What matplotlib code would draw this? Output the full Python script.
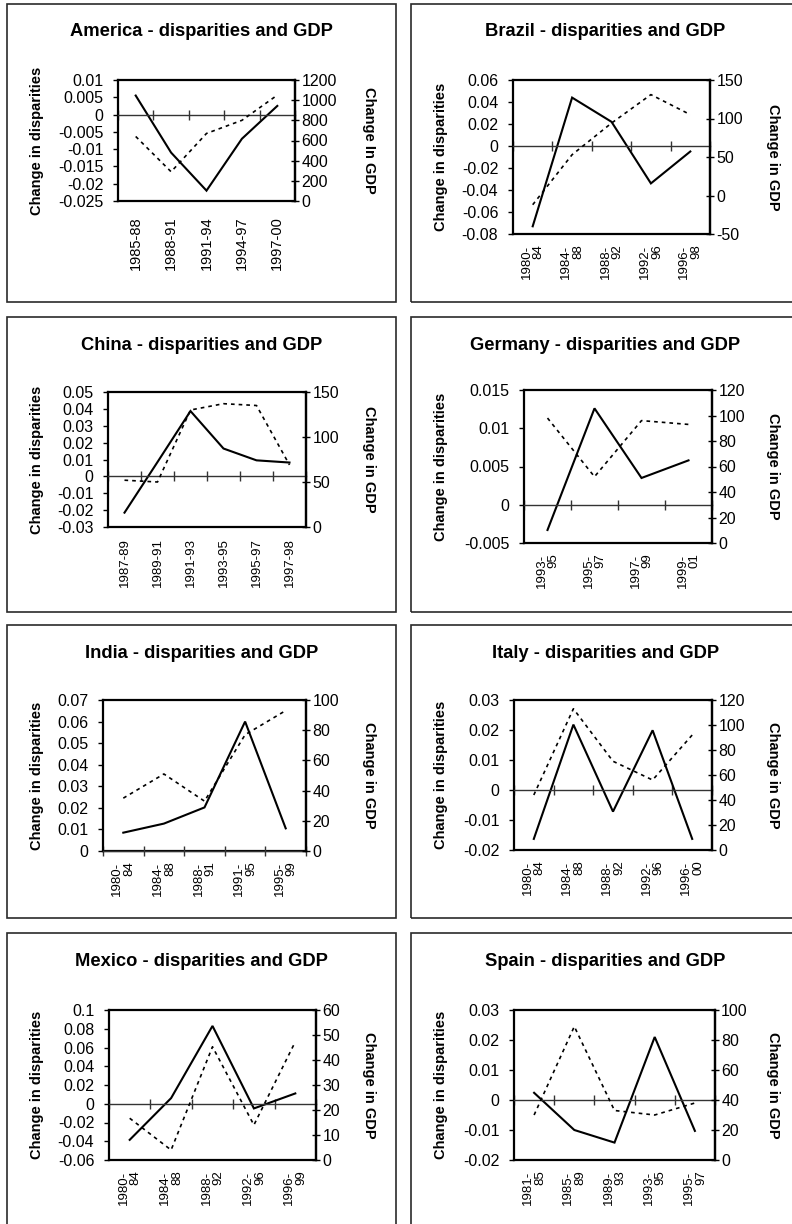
import numpy as np
import matplotlib
matplotlib.use('Agg')
import matplotlib.pyplot as plt
from matplotlib.patches import Rectangle
from matplotlib.ticker import FuncFormatter

plt.rcParams['font.family'] = ['Liberation Sans', 'DejaVu Sans']

# ---- data ----
america_periods = ['1985-88', '1988-91', '1991-94', '1994-97', '1997-00']
america_disp = [0.0055, -0.011, -0.022, -0.007, 0.0025]
america_gdp = [640, 290, 670, 800, 1050]

brazil_periods = ['1980-\n84', '1984-\n88', '1988-\n92', '1992-\n96', '1996-\n98']
brazil_disp = [-0.073, 0.044, 0.022, -0.034, -0.005]
brazil_gdp = [-12, 53, 94, 131, 105]

china_periods = ['1987-89', '1989-91', '1991-93', '1993-95', '1995-97', '1997-98']
china_disp = [-0.0215, 0.0085, 0.0387, 0.0165, 0.0095, 0.0082]
china_gdp = [52, 50, 130, 137, 135, 69]

germany_periods = ['1993-\n95', '1995-\n97', '1997-\n99', '1999-\n01']
germany_disp = [-0.0033, 0.0126, 0.0035, 0.0058]
germany_gdp = [98, 52, 96, 93]

india_periods = ['1980-\n84', '1984-\n88', '1988-\n91', '1991-\n95', '1995-\n99']
india_disp = [0.0085, 0.0127, 0.0202, 0.06, 0.0105]
india_gdp = [35, 51, 33, 77, 93]

italy_periods = ['1980-\n84', '1984-\n88', '1988-\n92', '1992-\n96', '1996-\n00']
italy_disp = [-0.0163, 0.0218, -0.0072, 0.0199, -0.0163]
italy_gdp = [44, 113, 71, 56, 92]

mexico_periods = ['1980-\n84', '1984-\n88', '1988-\n92', '1992-\n96', '1996-\n99']
mexico_disp = [-0.0385, 0.006, 0.083, -0.005, 0.011]
mexico_gdp = [16.7, 4, 45.3, 14, 47.3]

spain_periods = ['1981-\n85', '1985-\n89', '1989-\n93', '1993-\n95', '1995-\n97']
spain_disp = [0.0024, -0.01, -0.0142, 0.021, -0.0103]
spain_gdp = [30, 89, 33, 30, 38]

# ---- chart setup: (title, periods, disparities, gdp, left axis, right axis, right label)
charts = [
    ('America', america_periods, america_disp, america_gdp, (-0.025, 0.01, 0.005), (0, 1200, 200), 'Change In GDP'),
    ('Brazil', brazil_periods, brazil_disp, brazil_gdp, (-0.08, 0.06, 0.02), (-50, 150, 50), 'Change in GDP'),
    ('China', china_periods, china_disp, china_gdp, (-0.03, 0.05, 0.01), (0, 150, 50), 'Change in GDP'),
    ('Germany', germany_periods, germany_disp, germany_gdp, (-0.005, 0.015, 0.005), (0, 120, 20), 'Change in GDP'),
    ('India', india_periods, india_disp, india_gdp, (0, 0.07, 0.01), (0, 100, 20), 'Change in GDP'),
    ('Italy', italy_periods, italy_disp, italy_gdp, (-0.02, 0.03, 0.01), (0, 120, 20), 'Change in GDP'),
    ('Mexico', mexico_periods, mexico_disp, mexico_gdp, (-0.06, 0.1, 0.02), (0, 60, 10), 'Change in GDP'),
    ('Spain', spain_periods, spain_disp, spain_gdp, (-0.02, 0.03, 0.01), (0, 100, 20), 'Change in GDP'),
]

# pixel layout: panel boxes, plot areas (x0, y0, x1, y1), x-label pad and size
W, H = 792, 1224
col_x = [(7, 396), (411, 800)]
row_y = [(4, 302), (317, 612), (625, 918), (933, 1231)]
plot_boxes = [
    (118, 80, 295, 201), (513, 80, 710, 234),
    (108, 392, 306, 527), (524, 390, 712, 543),
    (103, 700, 306, 851), (514, 700, 712, 850),
    (109, 1010, 316, 1160), (514, 1010, 715, 1160),
]
xlab_pad = [11, 7.5, 8, 7.5, 7.5, 7.5, 7.5, 7.5]
xlab_size = [10.5, 9.5, 9.5, 9.5, 9.5, 9.5, 9.5, 9.5]

fig = plt.figure(figsize=(W / 100, H / 100), dpi=100)
fmt = FuncFormatter(lambda v, p: '%g' % round(v, 6))


def fig_rect(x0, y0, x1, y1):
    return [x0 / W, 1 - y1 / H, (x1 - x0) / W, (y1 - y0) / H]


for i, (name, periods, disp, gdp, lax, rax, rlabel) in enumerate(charts):
    c, r = i % 2, i // 2
    px0, px1 = col_x[c]
    py0, py1 = row_y[r]
    fig.add_artist(Rectangle((px0 / W, 1 - py1 / H), (px1 - px0) / W, (py1 - py0) / H,
                             transform=fig.transFigure, fill=False, lw=1.2, ec='#2a2a2a'))
    fig.text((px0 + px1) / 2 / W, 1 - (py0 + 28) / H, name + ' - disparities and GDP',
             ha='center', va='center', fontsize=13.2, fontweight='bold')

    bx0, by0, bx1, by1 = plot_boxes[i]
    ax = fig.add_axes(fig_rect(bx0, by0, bx1, by1))
    n = len(periods)
    x = np.arange(n)
    ax.set_xlim(-0.5, n - 0.5)
    ax.set_ylim(lax[0], lax[1])
    ax.set_yticks(np.arange(lax[0], lax[1] + lax[2] / 2, lax[2]))
    ax.yaxis.set_major_formatter(fmt)
    ax.tick_params(axis='y', direction='out', length=3.6, width=1, labelsize=11.5, pad=7)
    # category axis crossing at zero, ticks between categories
    ax.spines['bottom'].set_position(('data', 0))
    ax.spines['bottom'].set_linewidth(1)
    ax.spines['bottom'].set_color('#333333')
    ax.set_xticks(np.arange(n + 1) - 0.5)
    ax.tick_params(axis='x', direction='inout', length=7, width=1, color='#333333', labelbottom=False)
    for s in ['left', 'top', 'right']:
        ax.spines[s].set_linewidth(1.6)
    ax.plot(x, disp, color='black', lw=1.5, solid_joinstyle='miter')

    sec = ax.secondary_xaxis(0)
    sec.set_xticks(x, periods)
    sec.spines['bottom'].set_linewidth(1.6)
    sec.tick_params(length=0, pad=xlab_pad[i], labelsize=xlab_size[i], labelrotation=90)
    for lbl in sec.get_xticklabels():
        lbl.set_multialignment('right')
        lbl.set_linespacing(1.0)

    ax2 = ax.twinx()
    ax2.set_ylim(rax[0], rax[1])
    ax2.set_yticks(np.arange(rax[0], rax[1] + rax[2] / 2, rax[2]))
    ax2.yaxis.set_major_formatter(fmt)
    ax2.tick_params(axis='y', direction='inout', length=6, width=1, labelsize=11.5, pad=1.5)
    for s in ['left', 'top', 'bottom']:
        ax2.spines[s].set_visible(False)
    ax2.spines['right'].set_linewidth(1.6)
    ax2.plot(x, gdp, color='black', lw=1.2, ls=(0, (2.2, 2.4)))

    ymid = 1 - (by0 + by1) / 2 / H
    fig.text((px0 + 30) / W, ymid, 'Change in disparities', rotation=90,
             ha='center', va='center', fontsize=10.5, fontweight='bold')
    fig.text((px0 + 362) / W, ymid, rlabel, rotation=270,
             ha='center', va='center', fontsize=10.5, fontweight='bold')

fig.savefig('out.png', dpi=100)
